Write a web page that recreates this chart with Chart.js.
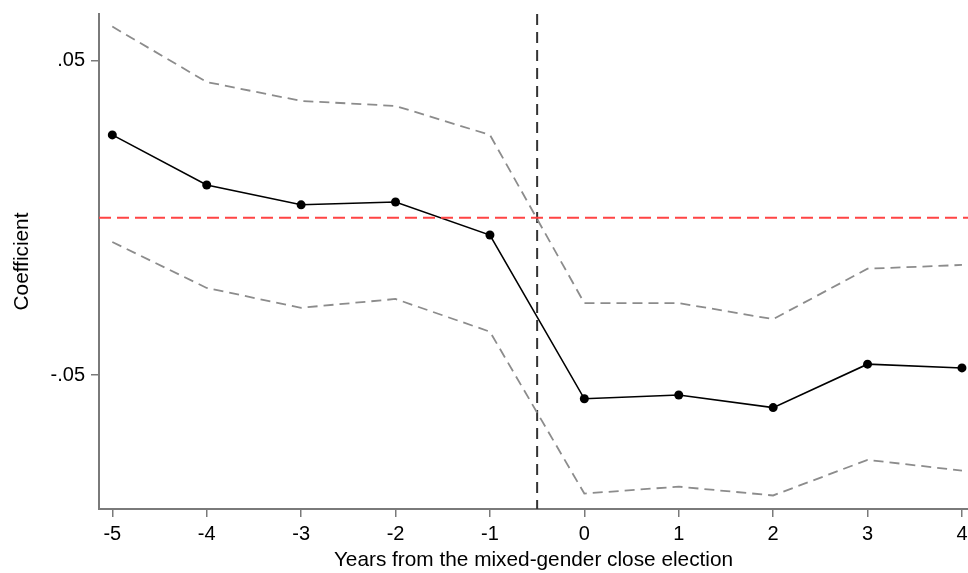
<!DOCTYPE html>
<html>
<head>
<meta charset="utf-8">
<script src="https://cdn.jsdelivr.net/npm/chart.js@4"></script>
<style>
  html, body { margin: 0; padding: 0; background: #fff; }
  #wrap { width: 968px; height: 573px; }
  canvas { display: block; }
</style>
</head>
<body>
<div id="wrap"><canvas id="c" width="968" height="573"></canvas></div>
<script>
const years = [-5, -4, -3, -2, -1, 0, 1, 2, 3, 4];
const coef  = [0.0263, 0.0104, 0.0041, 0.0050, -0.0055, -0.0575, -0.0563, -0.0603, -0.0465, -0.0477];
const upper = [0.0607, 0.0431, 0.0371, 0.0355, 0.0263, -0.0271, -0.0271, -0.0322, -0.0162, -0.0150];
const lower = [-0.0077, -0.0223, -0.0286, -0.0258, -0.0362, -0.0876, -0.0854, -0.0882, -0.0769, -0.0803];
const yTickValues = [-0.05, 0.05];
const yTickLabels = ['-.05', '.05'];
const xTickValues = [-5, -4, -3, -2, -1, 0, 1, 2, 3, 4];
const treatmentLine = -0.5;
const zeroLine = 0;
const xMin = -5.141, xMax = 4.064;
const yMin = -0.0925, yMax = 0.0647;

const pts = arr => years.map((x, i) => ({x: x, y: arr[i]}));
const FONT = "'Liberation Sans', Arial, Helvetica, sans-serif";

const zeroPad = s => { s.paddingLeft = 0; s.paddingRight = 0; s.paddingTop = 0; s.paddingBottom = 0; };

new Chart(document.getElementById('c'), {
  type: 'line',
  data: {
    datasets: [
      { label: 'zero', data: [{x: xMin, y: zeroLine}, {x: xMax, y: zeroLine}],
        borderColor: 'rgb(255,68,68)', borderWidth: 2, borderDash: [12, 6],
        pointRadius: 0, fill: false },
      { label: 'upper', data: pts(upper), borderColor: '#8c8c8c', borderWidth: 1.8,
        borderDash: [10, 6], pointRadius: 0, fill: false, tension: 0 },
      { label: 'lower', data: pts(lower), borderColor: '#8c8c8c', borderWidth: 1.8,
        borderDash: [10, 6], pointRadius: 0, fill: false, tension: 0 },
      { label: 'event', data: [{x: treatmentLine, y: yMax}, {x: treatmentLine, y: yMin}],
        borderColor: '#333333', borderWidth: 2, borderDash: [11, 7],
        pointRadius: 0, fill: false },
      { label: 'coef', data: pts(coef), borderColor: '#000', borderWidth: 1.6,
        pointRadius: 4.5, pointBackgroundColor: '#000', pointBorderColor: '#000',
        pointBorderWidth: 0, fill: false, tension: 0, clip: false }
    ]
  },
  options: {
    responsive: false,
    animation: false,
    events: [],
    layout: { autoPadding: false, padding: { top: 14, right: 0, left: 0, bottom: 0 } },
    plugins: { legend: { display: false }, tooltip: { enabled: false } },
    scales: {
      x: {
        type: 'linear', min: xMin, max: xMax,
        afterBuildTicks: s => { s.ticks = xTickValues.map(v => ({value: v})); },
        afterFit: s => { s.height = 64; zeroPad(s); },
        grid: { drawOnChartArea: false, drawTicks: true, tickLength: 8, color: '#7a7a7a', lineWidth: 1.5 },
        border: { display: true, color: '#7a7a7a', width: 2 },
        ticks: { color: '#000', font: { family: FONT, size: 20 }, padding: 5,
                 callback: v => String(v), maxRotation: 0, autoSkip: false },
        title: { display: true, text: 'Years from the mixed-gender close election',
                 color: '#000', font: { family: FONT, size: 20.8 }, padding: { top: 0, bottom: 0 } }
      },
      y: {
        type: 'linear', min: yMin, max: yMax,
        afterBuildTicks: s => { s.ticks = yTickValues.map(v => ({value: v})); },
        afterFit: s => { s.width = 99; zeroPad(s); },
        grid: { drawOnChartArea: false, drawTicks: true, tickLength: 8, color: '#7a7a7a', lineWidth: 1.5 },
        border: { display: true, color: '#7a7a7a', width: 2 },
        ticks: { color: '#000', font: { family: FONT, size: 20 }, padding: 6,
                 callback: v => { const i = yTickValues.indexOf(v); return i >= 0 ? yTickLabels[i] : ''; } },
        title: { display: true, text: 'Coefficient', color: '#000',
                 font: { family: FONT, size: 20.8 }, padding: { top: 10, bottom: 0 } }
      }
    }
  }
});
</script>
</body>
</html>
